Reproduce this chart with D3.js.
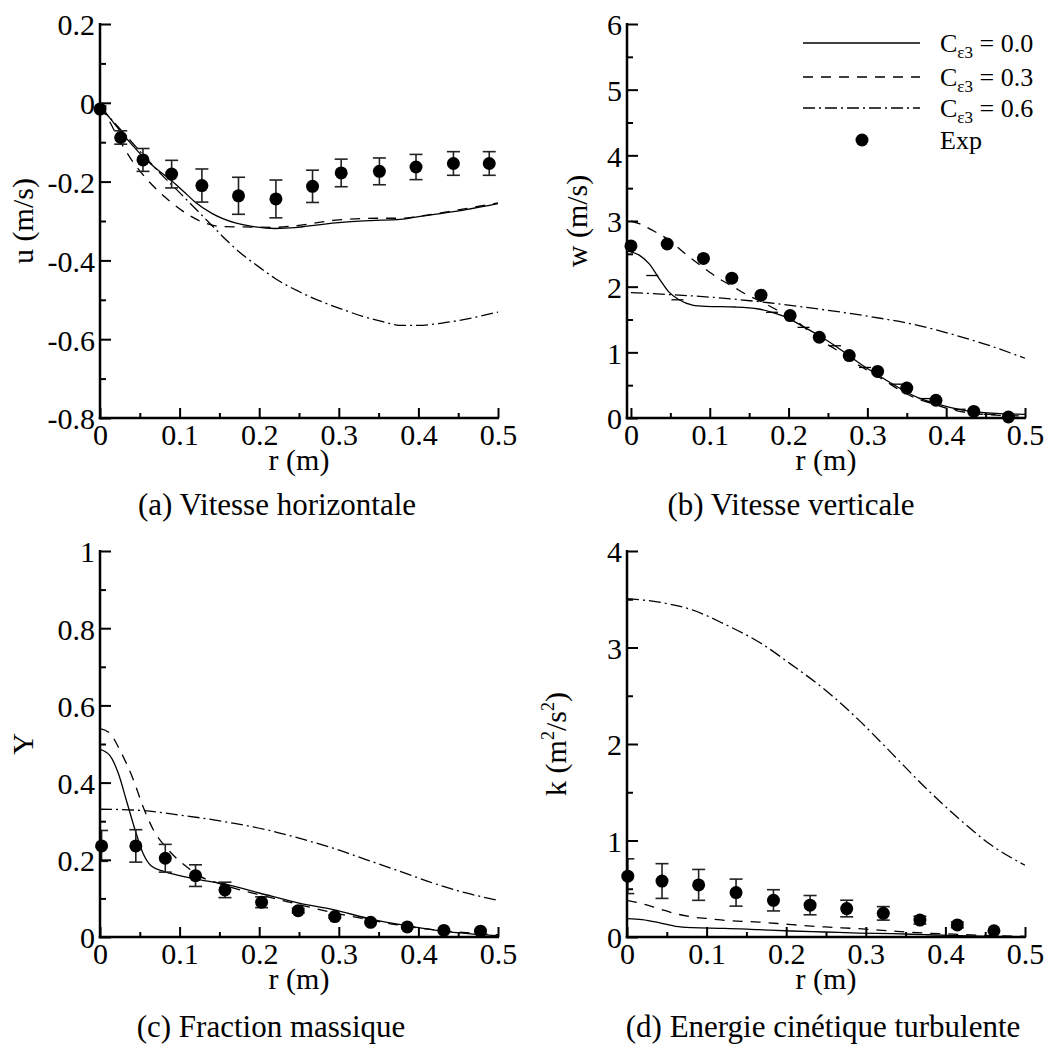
<!DOCTYPE html>
<html><head><meta charset="utf-8">
<script src="https://cdn.jsdelivr.net/npm/d3@7"></script>
<style>
body{margin:0;background:#fff}
svg{display:block}
</style>
</head><body>
<svg id="chart" width="1050" height="1053"></svg>
<script>
// ---------- shared ticks ----------
const xMajor = [0, 0.1, 0.2, 0.3, 0.4, 0.5];
const xMinor = [0.05, 0.15, 0.25, 0.35, 0.45];

// ---------- (a) horizontal velocity u ----------
const expA_r = [0, 0.026, 0.054, 0.090, 0.128, 0.174, 0.221, 0.267, 0.303, 0.351, 0.397, 0.444, 0.489];
const expA_u = [-0.016, -0.088, -0.145, -0.181, -0.210, -0.236, -0.244, -0.212, -0.178, -0.174, -0.163, -0.154, -0.154];
const expA_err = [0.008, 0.017, 0.029, 0.035, 0.042, 0.047, 0.048, 0.041, 0.035, 0.034, 0.032, 0.030, 0.030];
const uCe00 = [[0,-0.010],[0.013,-0.040],[0.026,-0.073],[0.04,-0.106],[0.054,-0.137],[0.07,-0.166],[0.09,-0.198],[0.105,-0.225],[0.119,-0.251],[0.14,-0.280],[0.17,-0.305],[0.195,-0.315],[0.22,-0.319],[0.245,-0.317],[0.26,-0.313],[0.30,-0.304],[0.34,-0.299],[0.377,-0.296],[0.40,-0.289],[0.42,-0.283],[0.46,-0.271],[0.50,-0.256]];
const uCe03 = [[0,-0.010],[0.01,-0.040],[0.02,-0.078],[0.03,-0.114],[0.04,-0.146],[0.05,-0.173],[0.062,-0.201],[0.082,-0.240],[0.104,-0.275],[0.128,-0.302],[0.152,-0.314],[0.18,-0.315],[0.22,-0.316],[0.25,-0.311],[0.30,-0.297],[0.35,-0.293],[0.38,-0.293],[0.40,-0.288],[0.45,-0.272],[0.50,-0.254]];
const uCe06 = [[0,-0.010],[0.02,-0.055],[0.04,-0.100],[0.06,-0.145],[0.08,-0.188],[0.10,-0.228],[0.12,-0.269],[0.14,-0.310],[0.16,-0.351],[0.18,-0.387],[0.20,-0.417],[0.22,-0.446],[0.25,-0.479],[0.28,-0.506],[0.30,-0.521],[0.33,-0.542],[0.35,-0.553],[0.38,-0.565],[0.40,-0.565],[0.43,-0.559],[0.46,-0.549],[0.50,-0.531]];

// ---------- (b) vertical velocity w ----------
const expB_r = [0, 0.046, 0.092, 0.128, 0.165, 0.202, 0.239, 0.277, 0.313, 0.350, 0.387, 0.435, 0.479];
const expB_w = [2.62, 2.65, 2.43, 2.13, 1.87, 1.56, 1.23, 0.95, 0.71, 0.455, 0.27, 0.10, 0.015];
const wCe00 = [[0,2.53],[0.0105,2.48],[0.023,2.35],[0.036,2.12],[0.048,1.92],[0.061,1.80],[0.078,1.72],[0.095,1.70],[0.133,1.69],[0.162,1.66],[0.179,1.61],[0.196,1.54],[0.213,1.43],[0.238,1.26],[0.259,1.10],[0.28,0.92],[0.301,0.745],[0.322,0.59],[0.343,0.44],[0.364,0.31],[0.385,0.225],[0.406,0.158],[0.427,0.107],[0.448,0.082],[0.469,0.066],[0.5,0.056]];
const wCe03 = [[0,3.0],[0.0105,2.96],[0.027,2.86],[0.048,2.71],[0.069,2.50],[0.091,2.30],[0.112,2.12],[0.131,1.99],[0.145,1.89],[0.166,1.77],[0.183,1.66],[0.2,1.56],[0.217,1.41],[0.238,1.20],[0.259,1.05],[0.28,0.87],[0.301,0.72],[0.322,0.57],[0.343,0.41],[0.364,0.29],[0.385,0.21],[0.406,0.13],[0.427,0.082],[0.448,0.056],[0.5,0.03]];
const wCe06 = [[0,1.91],[0.048,1.88],[0.112,1.83],[0.175,1.755],[0.238,1.66],[0.301,1.55],[0.364,1.41],[0.406,1.28],[0.448,1.13],[0.5,0.91]];
const wMarks = [[0.027,2.17],[0.059,1.80],[0.179,1.61],[0.219,1.38],[0.259,1.10],[0.297,0.77],[0.337,0.515],[0.373,0.296],[0.417,0.133],[0.455,0.056]];

// ---------- (c) mass fraction Y ----------
const expC_r = [0.002, 0.045, 0.082, 0.120, 0.157, 0.203, 0.249, 0.295, 0.340, 0.386, 0.432, 0.478];
const expC_Y = [0.236, 0.236, 0.204, 0.159, 0.122, 0.090, 0.068, 0.053, 0.038, 0.026, 0.017, 0.015];
const expC_err = [0.040, 0.042, 0.036, 0.028, 0.020, 0.014, 0.006, 0.004, 0, 0, 0, 0];
const yCe00 = [[0,0.486],[0.0125,0.47],[0.023,0.424],[0.033,0.355],[0.044,0.278],[0.054,0.217],[0.065,0.183],[0.08,0.170],[0.1,0.159],[0.126,0.148],[0.15,0.140],[0.2,0.114],[0.25,0.088],[0.293,0.071],[0.343,0.045],[0.389,0.028],[0.431,0.015],[0.5,0.003]];
const yCe03 = [[0,0.54],[0.0125,0.528],[0.025,0.484],[0.042,0.407],[0.054,0.338],[0.067,0.278],[0.084,0.23],[0.096,0.204],[0.11,0.18],[0.126,0.157],[0.15,0.138],[0.167,0.127],[0.209,0.105],[0.25,0.084],[0.293,0.063],[0.335,0.046],[0.375,0.031],[0.418,0.019],[0.5,0.006]];
const yCe06 = [[0,0.331],[0.042,0.329],[0.1,0.316],[0.167,0.295],[0.209,0.278],[0.25,0.256],[0.293,0.23],[0.335,0.2],[0.377,0.17],[0.418,0.14],[0.46,0.114],[0.5,0.095]];

// ---------- (d) turbulent kinetic energy k ----------
const expD_r = [0.001, 0.044, 0.090, 0.137, 0.184, 0.230, 0.276, 0.322, 0.368, 0.415, 0.461];
const expD_k = [0.63, 0.58, 0.54, 0.46, 0.38, 0.33, 0.295, 0.245, 0.175, 0.125, 0.065];
const expD_err = [0.18, 0.18, 0.16, 0.14, 0.11, 0.10, 0.086, 0.07, 0.04, 0.03, 0];
const kCe00 = [[0,0.19],[0.019,0.18],[0.04,0.149],[0.061,0.11],[0.082,0.097],[0.123,0.09],[0.165,0.076],[0.207,0.062],[0.249,0.052],[0.291,0.041],[0.333,0.035],[0.374,0.024],[0.416,0.014],[0.458,0.007],[0.5,0.003]];
const kCe03 = [[0,0.38],[0.019,0.345],[0.04,0.294],[0.061,0.242],[0.082,0.207],[0.103,0.19],[0.123,0.173],[0.165,0.155],[0.207,0.128],[0.249,0.104],[0.291,0.086],[0.333,0.062],[0.374,0.041],[0.416,0.028],[0.458,0.014],[0.5,0.007]];
const kCe06 = [[0,3.506],[0.04,3.47],[0.082,3.39],[0.123,3.24],[0.165,3.06],[0.207,2.82],[0.249,2.56],[0.291,2.25],[0.333,1.90],[0.374,1.555],[0.416,1.233],[0.458,0.95],[0.5,0.743]];

// ---------- legend & captions ----------
const legendLabels = ["0.0", "0.3", "0.6"];
const captions = ["(a) Vitesse horizontale", "(b) Vitesse verticale", "(c) Fraction massique", "(d) Energie cinétique turbulente"];

// ---------- styles ----------
const DASH = {solid: null, dashed: "10,8", dashdot: "12,4,2,4"};
const FS = 30;
const FONT = "'Liberation Serif', 'Times New Roman', Times, serif";

const svg = d3.select("#chart");

const fmt1 = d => d === 0 ? "0" : (Math.abs(d - Math.round(d)) < 1e-9 ? String(Math.round(d)) : d.toFixed(1)).replace("\u2212", "-");

const panels = [
  {id:"a", left:100, right:498, top:24, bottom:418, xDom:[0,0.5], yDom:[-0.8,0.2],
   yMajor:[-0.8,-0.6,-0.4,-0.2,0,0.2], yMinor:[-0.7,-0.5,-0.3,-0.1,0.1],
   curves:[[uCe00,"solid"],[uCe03,"dashed"],[uCe06,"dashdot"]],
   exp:{r:expA_r, v:expA_u, e:expA_err},
   ytitle:[{t:"u (m/s)"}], ytx:33, capX:277, capY:515},
  {id:"b", left:627, right:1025, top:24, bottom:418, xDom:[-0.005,0.5], yDom:[0,6],
   yMajor:[0,1,2,3,4,5,6], yMinor:[0.5,1.5,2.5,3.5,4.5,5.5],
   curves:[[wCe00,"solid"],[wCe03,"dashed"],[wCe06,"dashdot"]],
   exp:{r:expB_r, v:expB_w, e:null}, marks:wMarks,
   ytitle:[{t:"w (m/s)"}], ytx:587, capX:791, capY:515},
  {id:"c", left:100, right:498, top:551, bottom:937, xDom:[0,0.5], yDom:[0,1],
   yMajor:[0,0.2,0.4,0.6,0.8,1], yMinor:[0.1,0.3,0.5,0.7,0.9],
   curves:[[yCe00,"solid"],[yCe03,"dashed"],[yCe06,"dashdot"]],
   exp:{r:expC_r, v:expC_Y, e:expC_err},
   ytitle:[{t:"Y"}], ytx:33, capX:271, capY:1037},
  {id:"d", left:627, right:1025, top:551, bottom:937, xDom:[0,0.5], yDom:[0,4],
   yMajor:[0,1,2,3,4], yMinor:[0.5,1.5,2.5,3.5],
   curves:[[kCe00,"solid"],[kCe03,"dashed"],[kCe06,"dashdot"]],
   exp:{r:expD_r, v:expD_k, e:expD_err},
   ytitle:[{t:"k (m"},{t:"2",sup:true},{t:"/s"},{t:"2",sup:true},{t:")"}], ytx:566, capX:823, capY:1037}
];

panels.forEach((p, i) => {
  const x = d3.scaleLinear().domain(p.xDom).range([p.left, p.right]);
  const y = d3.scaleLinear().domain(p.yDom).range([p.bottom, p.top]);
  const g = svg.append("g");

  const clipId = "clip" + p.id;
  svg.append("clipPath").attr("id", clipId).append("rect")
    .attr("x", x(0)).attr("y", p.top - 10).attr("width", p.right - x(0) + 2).attr("height", p.bottom - p.top + 10);

  const line = d3.line().x(d => x(d[0])).y(d => y(d[1])).curve(d3.curveMonotoneX);
  p.curves.forEach(([data, style]) => {
    g.append("path").datum(data).attr("d", line)
      .attr("fill", "none").attr("stroke", "#000").attr("stroke-width", 1.3)
      .attr("stroke-dasharray", DASH[style]);
  });

  if (p.marks) {
    g.selectAll(null).data(p.marks).enter().append("line")
      .attr("x1", d => x(d[0]) - 6).attr("x2", d => x(d[0]) + 6)
      .attr("y1", d => y(d[1])).attr("y2", d => y(d[1]))
      .attr("stroke", "#000").attr("stroke-width", 1.3);
  }

  const pts = p.exp.r.map((r, j) => ({r, v: p.exp.v[j], e: p.exp.e ? p.exp.e[j] : 0}));
  const eb = g.append("g").attr("clip-path", `url(#${clipId})`).attr("stroke", "#222").attr("stroke-width", 1.6);
  pts.filter(d => d.e > 0).forEach(d => {
    const cx = x(d.r), y1 = y(d.v + d.e), y2 = y(d.v - d.e);
    eb.append("line").attr("x1", cx).attr("x2", cx).attr("y1", y1).attr("y2", y2);
    eb.append("line").attr("x1", cx - 6.5).attr("x2", cx + 6.5).attr("y1", y1).attr("y2", y1);
    eb.append("line").attr("x1", cx - 6.5).attr("x2", cx + 6.5).attr("y1", y2).attr("y2", y2);
  });
  g.selectAll(null).data(pts).enter().append("circle")
    .attr("cx", d => x(d.r)).attr("cy", d => y(d.v)).attr("r", 6.5).attr("fill", "#000");

  // axes
  const yAxis = d3.axisLeft(y).tickValues(p.yMajor).tickSize(-11).tickPadding(5).tickFormat(fmt1);
  const yAxisMin = d3.axisLeft(y).tickValues(p.yMinor).tickSize(-6).tickFormat("");
  const xAxis = d3.axisBottom(x).tickValues(xMajor).tickSize(-10).tickPadding(6).tickFormat(fmt1);
  const xAxisMin = d3.axisBottom(x).tickValues(xMinor).tickSize(-5).tickFormat("");

  [[yAxis, `translate(${p.left},0)`, true], [yAxisMin, `translate(${p.left},0)`, true],
   [xAxis, `translate(0,${p.bottom})`, false], [xAxisMin, `translate(0,${p.bottom})`, false]].forEach(([ax, tr, isY]) => {
    const a = g.append("g").attr("transform", tr).call(ax)
      .attr("font-family", FONT).attr("font-size", FS);
    a.select(".domain").remove();
    a.selectAll("line").attr("stroke", "#000").attr("stroke-width", 2);
    a.selectAll("text").attr("fill", "#000");
    if (isY) a.selectAll("text").attr("dy", "0.36em");
  });

  g.append("line").attr("x1", p.left).attr("x2", p.left).attr("y1", p.top - 1).attr("y2", p.bottom + 1.25)
    .attr("stroke", "#000").attr("stroke-width", 2.5);
  g.append("line").attr("x1", p.left - 1.25).attr("x2", p.right + 1).attr("y1", p.bottom).attr("y2", p.bottom)
    .attr("stroke", "#000").attr("stroke-width", 2.5);

  // axis titles
  const cx = (p.left + p.right) / 2, cy = (p.top + p.bottom) / 2;
  g.append("text").attr("x", cx).attr("y", p.bottom + 52).attr("text-anchor", "middle").attr("font-size", FS).text("r (m)");
  const yt = g.append("text").attr("transform", `translate(${p.ytx},${cy}) rotate(-90)`)
    .attr("text-anchor", "middle").attr("font-size", FS);
  let shifted = false;
  p.ytitle.forEach(s => {
    const ts = yt.append("tspan").text(s.t);
    if (s.sup) { ts.attr("font-size", 18).attr("dy", -12); shifted = true; }
    else if (shifted) { ts.attr("dy", 12); shifted = false; }
  });
  // caption
  g.append("text").attr("x", p.capX).attr("y", p.capY).attr("text-anchor", "middle").attr("font-size", 31).text(captions[i]);
});

// legend (panel b)
const leg = svg.append("g");
const legRows = [43, 77, 108];
const legStyles = ["solid", "dashed", "dashdot"];
legendLabels.forEach((lab, i) => {
  leg.append("line").attr("x1", 803).attr("x2", 920).attr("y1", legRows[i]).attr("y2", legRows[i])
    .attr("stroke", "#000").attr("stroke-width", 1.3).attr("stroke-dasharray", DASH[legStyles[i]]);
  const t = leg.append("text").attr("x", 940).attr("y", legRows[i] + 9).attr("font-size", 26);
  t.append("tspan").text("C");
  t.append("tspan").attr("font-size", 17).attr("dy", 6).text("\u03b53");
  t.append("tspan").attr("dy", -6).text(" = " + lab);
});
leg.append("circle").attr("cx", 862).attr("cy", 140).attr("r", 6.5).attr("fill", "#000");
leg.append("text").attr("x", 940).attr("y", 149).attr("font-size", 26).text("Exp");

// serif on every text element
svg.selectAll("text").style("font-family", FONT).style("fill", "#000");
</script>
</body></html>
